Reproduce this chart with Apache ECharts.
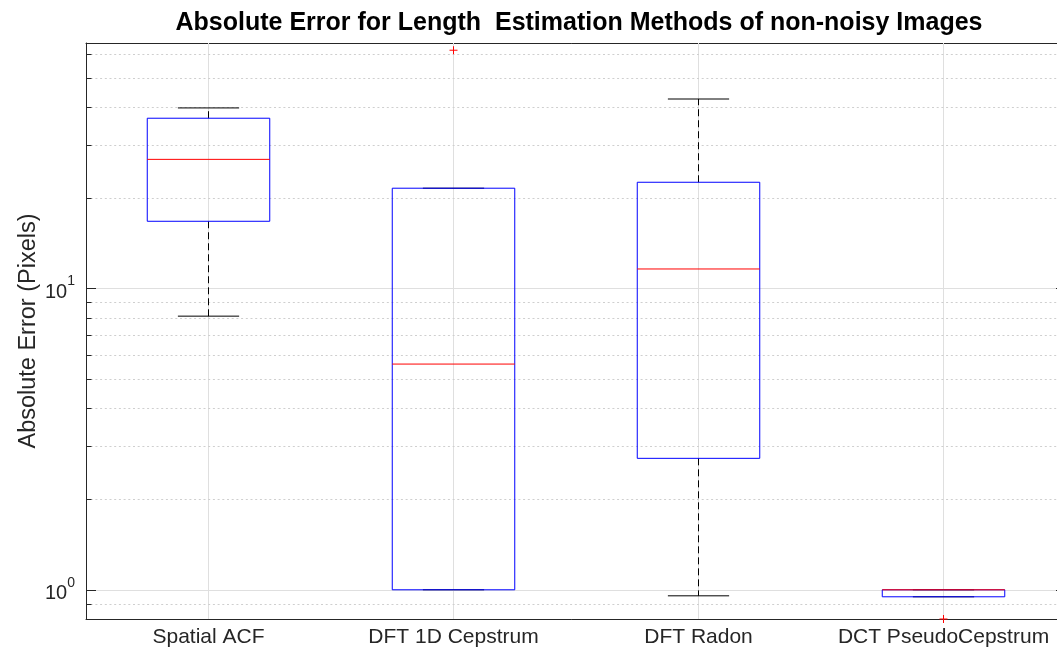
<!DOCTYPE html>
<html>
<head>
<meta charset="utf-8">
<title>Absolute Error for Length Estimation Methods</title>
<script src="https://cdn.jsdelivr.net/npm/echarts@6/dist/echarts.min.js"></script>
<style>
  html, body { margin: 0; padding: 0; background: #fff; }
  #chart { width: 1057px; height: 652px; }
</style>
</head>
<body>
<div id="chart"></div>
<script>
// Methods compared
const methods = ['Spatial ACF', 'DFT 1D Cepstrum', 'DFT Radon', 'DCT PseudoCepstrum'];

// Box statistics per method: lower whisker, Q1, median, Q3, upper whisker (pixels)
const lowerWhisker = [8.09, 1.0, 0.955, 0.948];
const quartile1    = [16.7, 1.0, 2.73, 0.948];
const medians      = [26.8, 5.61, 11.6, 1.0];
const quartile3    = [36.7, 21.5, 22.5, 1.0];
const upperWhisker = [39.7, 21.5, 42.5, 1.0];

// Outliers: [method index, value]
const outliers = [[1, 61.7], [3, 0.80]];

// Log-axis minor gridlines / ticks
const minorTicks = [0.9, 2, 3, 4, 5, 6, 7, 8, 9, 20, 30, 40, 50, 60];

const FONT = "'Liberation Sans', Arial, Helvetica, sans-serif";
const AXIS_COLOR = '#262626';

const boxData = methods.map((m, i) => [i, lowerWhisker[i], quartile1[i], medians[i], quartile3[i], upperWhisker[i]]);

const chart = echarts.init(document.getElementById('chart'), null, { renderer: 'canvas' });

function isPow10(v) {
  const e = Math.log10(v);
  return Math.abs(e - Math.round(e)) < 1e-6;
}

const option = {
  backgroundColor: '#fff',
  animation: false,
  title: {
    text: 'Absolute Error for Length  Estimation Methods of non-noisy Images',
    left: 574,
    top: 6,
    textAlign: 'center',
    textStyle: { fontFamily: FONT, fontSize: 25, fontWeight: 'bold', color: '#000' }
  },
  grid: { left: 86, top: 43, width: 980, height: 576, containLabel: false, outerBoundsMode: 'none' },
  xAxis: [
    {
      type: 'category',
      data: methods,
      position: 'bottom',
      boundaryGap: true,
      axisLine: { show: true, lineStyle: { color: AXIS_COLOR, width: 1 } },
      axisTick: { show: true, alignWithLabel: true, inside: true, length: 10, lineStyle: { color: AXIS_COLOR } },
      axisLabel: { fontFamily: FONT, fontSize: 21, color: AXIS_COLOR, margin: 8, interval: 0, hideOverlap: false },
      splitLine: { show: false }
    },
    {
      type: 'category',
      data: methods,
      position: 'top',
      boundaryGap: true,
      axisLine: { show: true, lineStyle: { color: AXIS_COLOR, width: 1 } },
      axisTick: { show: true, alignWithLabel: true, inside: true, length: 10, lineStyle: { color: AXIS_COLOR } },
      axisLabel: { show: false },
      splitLine: { show: false }
    }
  ],
  yAxis: [
    {
      type: 'log',
      logBase: 10,
      min: 0.8,
      max: 65.2,
      position: 'left',
      name: 'Absolute Error (Pixels)',
      nameLocation: 'middle',
      nameGap: 45,
      nameMoveOverlap: false,
      nameTextStyle: { fontFamily: FONT, fontSize: 23.5, color: AXIS_COLOR },
      axisLine: { show: true, lineStyle: { color: AXIS_COLOR, width: 1 } },
      axisTick: { show: true, inside: true, length: 10, lineStyle: { color: AXIS_COLOR } },
      axisLabel: {
        showMinLabel: false,
        showMaxLabel: false,
        margin: 11,
        formatter: function (v) {
          if (!isPow10(v)) return '';
          return '{b|10}{s|' + Math.round(Math.log10(v)) + '}';
        },
        rich: {
          b: { fontFamily: FONT, fontSize: 20, color: AXIS_COLOR, padding: [8, 0, 0, 0] },
          s: { fontFamily: FONT, fontSize: 14, color: AXIS_COLOR, verticalAlign: 'top', padding: [0, 0, 0, 0] }
        }
      },
      splitLine: { show: true, lineStyle: { color: '#dfdfdf', width: 1 } }
    },
    {
      type: 'log',
      logBase: 10,
      min: 0.8,
      max: 65.2,
      position: 'right',
      axisLine: { show: true, lineStyle: { color: AXIS_COLOR, width: 1 } },
      axisTick: { show: true, inside: true, length: 10, lineStyle: { color: AXIS_COLOR } },
      axisLabel: { show: false },
      splitLine: { show: false }
    }
  ],
  series: [
    // vertical gridlines at each method
    {
      type: 'custom',
      z: 1,
      silent: true,
      clip: false,
      data: methods.map((m, i) => [i, 1]),
      encode: { x: 0, y: 1 },
      renderItem: function (params, api) {
        const cs = params.coordSys;
        const x = api.coord([api.value(0), 1])[0];
        return {
          type: 'line',
          shape: { x1: x, y1: cs.y, x2: x, y2: cs.y + cs.height },
          style: { stroke: '#dfdfdf', lineWidth: 1 }
        };
      }
    },
    // minor gridlines and minor ticks on the log axis
    {
      type: 'custom',
      z: 1,
      silent: true,
      clip: false,
      data: minorTicks.map(v => [0, v]),
      encode: { x: 0, y: 1 },
      renderItem: function (params, api) {
        const cs = params.coordSys;
        const y = Math.round(api.coord([0, api.value(1)])[1]) + 0.5;
        const x0 = cs.x, x1 = cs.x + cs.width;
        return {
          type: 'group',
          children: [
            { type: 'line', shape: { x1: x0, y1: y, x2: x1, y2: y },
              style: { stroke: '#cfcfcf', lineWidth: 1, lineDash: [2, 2.7] } },
            { type: 'line', shape: { x1: x0, y1: y, x2: x0 + 5.5, y2: y },
              style: { stroke: AXIS_COLOR, lineWidth: 1 } },
            { type: 'line', shape: { x1: x1 - 5.5, y1: y, x2: x1, y2: y },
              style: { stroke: AXIS_COLOR, lineWidth: 1 } }
          ]
        };
      }
    },
    // box plots
    {
      type: 'custom',
      z: 3,
      clip: false,
      data: boxData,
      encode: { x: 0, y: [1, 2, 3, 4, 5] },
      renderItem: function (params, api) {
        const i = api.value(0);
        const xc = api.coord([i, 1])[0];
        const yLo = api.coord([i, api.value(1)])[1];
        const yQ1 = api.coord([i, api.value(2)])[1];
        const yMed = api.coord([i, api.value(3)])[1];
        const yQ3 = api.coord([i, api.value(4)])[1];
        const yHi = api.coord([i, api.value(5)])[1];
        const bw = api.size([1, 1])[0] * 0.5;
        const cw = bw * 0.5;
        const whisker = { stroke: '#000', lineWidth: 1, lineDash: [7, 4] };
        const cap = { stroke: '#000', lineWidth: 1 };
        const children = [];
        if (yHi < yQ3 - 0.5) children.push({ type: 'line', shape: { x1: xc, y1: yQ3, x2: xc, y2: yHi }, style: whisker });
        if (yLo > yQ1 + 0.5) children.push({ type: 'line', shape: { x1: xc, y1: yQ1, x2: xc, y2: yLo }, style: whisker });
        children.push({ type: 'line', shape: { x1: xc - cw / 2, y1: yHi, x2: xc + cw / 2, y2: yHi }, style: cap });
        children.push({ type: 'line', shape: { x1: xc - cw / 2, y1: yLo, x2: xc + cw / 2, y2: yLo }, style: cap });
        children.push({
          type: 'rect',
          shape: { x: xc - bw / 2, y: yQ3, width: bw, height: yQ1 - yQ3 },
          style: { fill: 'none', stroke: '#0000ff', lineWidth: 1 }
        });
        children.push({
          type: 'line',
          shape: { x1: xc - bw / 2, y1: yMed, x2: xc + bw / 2, y2: yMed },
          style: { stroke: '#ff0000', lineWidth: 1 }
        });
        return { type: 'group', children: children };
      }
    },
    // outliers
    {
      type: 'scatter',
      z: 4,
      clip: false,
      silent: true,
      data: outliers,
      symbol: 'path://M0,5L10,5M5,0L5,10',
      symbolSize: 8,
      itemStyle: { color: 'none', borderColor: '#ff0000', borderWidth: 1, opacity: 1 }
    }
  ]
};

chart.setOption(option);
</script>
</body>
</html>
